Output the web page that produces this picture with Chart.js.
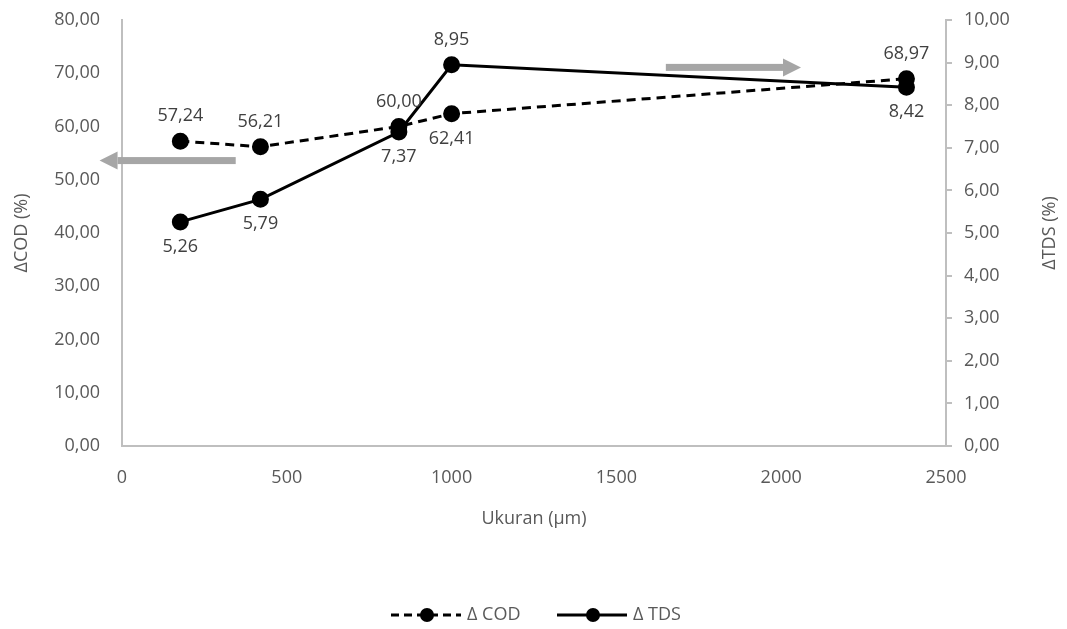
<!DOCTYPE html>
<html lang="id">
<head>
<meta charset="UTF-8">
<title>COD dan TDS vs Ukuran</title>
<script src="https://cdn.jsdelivr.net/npm/chart.js"></script>
<style>
  html, body { margin: 0; padding: 0; background: #fff; }
  #wrap { width: 1067px; height: 629px; }
</style>
</head>
<body>
<div id="wrap"><canvas id="chartUkuran"></canvas></div>
<script>
    // data
    var ukuran = [177, 420, 840, 1000, 2380];
    var deltaCOD = [57.24, 56.21, 60.00, 62.41, 68.97];
    var deltaTDS = [5.26, 5.79, 7.37, 8.95, 8.42];
    // posisi label: -1 di atas titik, 1 di bawah titik
    var posLabelCOD = [-1, -1, -1, 1, -1];
    var posLabelTDS = [1, 1, 1, -1, 1];

    var fontUtama = '"Open Sans", "Liberation Sans", sans-serif';
    var ukFont = 18;
    var warnaTeks = '#595959';
    var warnaSumbu = '#bfbfbf';

    function formatKoma(v) {
        return Number(v).toFixed(2).replace('.', ',');
    }

    // label data, panah abu-abu, judul sumbu kanan dan legenda
    var pluginTambahan = {
        id: 'tambahan',
        afterDatasetsDraw: function (chart) {
            const ctx = chart.ctx;
            const sx = chart.scales.x;
            const yk = chart.scales.y;

            // panah
            ctx.save();
            ctx.fillStyle = '#a6a6a6';
            function panah(x1, x2, yv) {
                const a = sx.getPixelForValue(x1);
                const b = sx.getPixelForValue(x2);
                const y = yk.getPixelForValue(yv);
                const arah = b > a ? 1 : -1;
                const kepala = 18;
                ctx.fillRect(Math.min(a, b - arah * kepala), y - 3.5, Math.abs(b - a) - kepala, 7);
                ctx.beginPath();
                ctx.moveTo(b, y);
                ctx.lineTo(b - arah * kepala, y - 9);
                ctx.lineTo(b - arah * kepala, y + 9);
                ctx.closePath();
                ctx.fill();
            }
            panah(345, -68, 53.6);
            panah(1650, 2060, 71.1);
            ctx.restore();

            // label data
            ctx.save();
            ctx.font = ukFont + 'px ' + fontUtama;
            ctx.fillStyle = '#404040';
            ctx.textAlign = 'center';
            ctx.textBaseline = 'middle';
            chart.data.datasets.forEach(function (ds, i) {
                const meta = chart.getDatasetMeta(i);
                const pos = i === 0 ? posLabelCOD : posLabelTDS;
                meta.data.forEach(function (pt, j) {
                    ctx.fillText(formatKoma(ds.data[j].y), pt.x, pt.y + pos[j] * 25);
                });
            });
            ctx.restore();
        },
        afterDraw: function (chart) {
            const ctx = chart.ctx;
            const yk2 = chart.scales.y2;

            // judul sumbu kanan dibaca dari bawah ke atas
            ctx.save();
            ctx.font = ukFont + 'px ' + fontUtama;
            ctx.fillStyle = warnaTeks;
            ctx.textAlign = 'center';
            ctx.textBaseline = 'middle';
            ctx.translate(1050, (yk2.top + yk2.bottom) / 2);
            ctx.rotate(-Math.PI / 2);
            ctx.fillText('ΔTDS (%)', 0, 0);
            ctx.restore();

            // legenda
            ctx.save();
            ctx.font = ukFont + 'px ' + fontUtama;
            ctx.textBaseline = 'middle';
            const yL = 615;
            const item = [
                { teks: 'Δ COD', dash: [8, 5] },
                { teks: 'Δ TDS', dash: [] }
            ];
            let x = 391;
            item.forEach(function (it) {
                ctx.strokeStyle = '#000';
                ctx.lineWidth = 3;
                ctx.setLineDash(it.dash);
                ctx.beginPath();
                ctx.moveTo(x, yL);
                ctx.lineTo(x + 70, yL);
                ctx.stroke();
                ctx.setLineDash([]);
                ctx.fillStyle = '#000';
                ctx.beginPath();
                ctx.arc(x + 36, yL, 7, 0, Math.PI * 2);
                ctx.fill();
                ctx.fillStyle = warnaTeks;
                ctx.fillText(it.teks, x + 76, yL);
                x += 166;
            });
            ctx.restore();
        }
    };

    function pasLebar(lebar) {
        return function (s) {
            s.width = lebar;
            s.paddingTop = 0;
            s.paddingBottom = 0;
        };
    }

    const ctx = document.getElementById('chartUkuran');

    new Chart(ctx, {
        type: 'scatter',
        data: {
            datasets: [{
                label: 'Δ COD',
                data: ukuran.map(function (u, i) { return { x: u, y: deltaCOD[i] }; }),
                yAxisID: 'y',
                showLine: true,
                borderColor: '#000',
                backgroundColor: '#000',
                borderWidth: 3,
                borderDash: [9, 6],
                pointRadius: 7,
                pointHoverRadius: 7
            }, {
                label: 'Δ TDS',
                data: ukuran.map(function (u, i) { return { x: u, y: deltaTDS[i] }; }),
                yAxisID: 'y2',
                showLine: true,
                borderColor: '#000',
                backgroundColor: '#000',
                borderWidth: 3,
                pointRadius: 7,
                pointHoverRadius: 7
            }]
        },
        options: {
            responsive: true,
            maintainAspectRatio: false,
            animation: false,
            layout: { padding: { top: 20, bottom: 95, left: 0, right: 0 } },
            plugins: {
                legend: { display: false },
                tooltip: { enabled: false }
            },
            scales: {
                x: {
                    type: 'linear',
                    min: 0,
                    max: 2500,
                    afterFit: function (s) { s.height = 88; },
                    grid: { display: false, drawTicks: false },
                    border: { color: warnaSumbu, width: 2 },
                    ticks: {
                        stepSize: 500,
                        padding: 21,
                        color: warnaTeks,
                        font: { family: fontUtama, size: ukFont },
                        maxRotation: 0,
                        callback: function (v) { return String(v); }
                    },
                    title: {
                        display: true,
                        text: 'Ukuran (µm)',
                        color: warnaTeks,
                        font: { family: fontUtama, size: ukFont }
                    }
                },
                y: {
                    position: 'left',
                    min: 0,
                    max: 80,
                    afterFit: pasLebar(122),
                    grid: { display: false, drawTicks: false },
                    border: { color: warnaSumbu, width: 2 },
                    ticks: {
                        stepSize: 10,
                        padding: 22,
                        color: warnaTeks,
                        font: { family: fontUtama, size: ukFont },
                        callback: function (v) { return formatKoma(v); }
                    },
                    title: {
                        display: true,
                        text: 'ΔCOD (%)',
                        color: warnaTeks,
                        padding: { top: 11, bottom: 4 },
                        font: { family: fontUtama, size: ukFont }
                    }
                },
                y2: {
                    position: 'right',
                    min: 0,
                    max: 10,
                    afterFit: pasLebar(121),
                    grid: {
                        display: true,
                        drawOnChartArea: false,
                        drawTicks: true,
                        tickLength: 6,
                        color: warnaSumbu,
                        lineWidth: 2
                    },
                    border: { color: warnaSumbu, width: 2 },
                    ticks: {
                        stepSize: 1,
                        padding: 12,
                        color: warnaTeks,
                        font: { family: fontUtama, size: ukFont },
                        callback: function (v) { return formatKoma(v); }
                    }
                }
            }
        },
        plugins: [pluginTambahan]
    });
</script>
</body>
</html>
